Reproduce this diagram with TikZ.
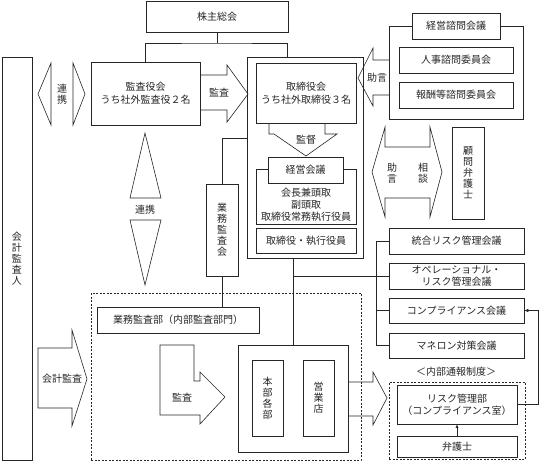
\documentclass[tikz,border=0pt]{standalone}
\usepackage{fontspec}
\setmainfont{Noto Sans CJK JP}
\usetikzlibrary{arrows.meta}
\begin{document}
\begin{tikzpicture}[x=1pt,y=-1pt,line width=0.6pt,color=black!85,line join=miter,
  txt/.style={inner sep=0pt,align=center,font=\fontsize{10}{13}\selectfont},
  box/.style={draw,fill=white,inner sep=0pt,align=center,font=\fontsize{10}{13}\selectfont},
  vt/.style={font=\fontsize{10}{11}\selectfont},
  tl/.style={font=\fontsize{10}{12}\selectfont},
  dbox/.style={draw,dash pattern=on 2pt off 1.5pt,inner sep=0pt},
  tip/.style={-{Latex[length=4pt,width=3.5pt]}}]
\useasboundingbox (0,0) rectangle (540,461);
% top
\node[box,minimum width=142pt,minimum height=31pt] (kabu) at (217,16.5) {株主総会};
\node[box,minimum width=109pt,minimum height=63pt] (kansa) at (145.5,93.5) {監査役会\\うち社外監査役２名};
\node[box,minimum width=116pt,minimum height=201pt] (torout) at (305,157.5) {};
\node[box,minimum width=100pt,minimum height=60pt] (torikai) at (306,93) {取締役会\\うち社外取締役３名};
\node[box,minimum width=100pt,minimum height=55pt] (keigrp) at (306,196.5) {};
\node[box,minimum width=75pt,minimum height=26pt] (keiei) at (305.5,170) {経営会議};
\node[txt,tl] (keimem) at (306,205) {会長兼頭取\\副頭取\\取締役常務執行役員};
\node[box,minimum width=100pt,minimum height=25pt] (shikko) at (306,240.5) {取締役・執行役員};
% advisory
\node[box,minimum width=134pt,minimum height=93pt] (shimon) at (456,72.5) {};
\node[box,minimum width=88pt,minimum height=26pt] (shimont) at (456,26) {経営諮問会議};
\node[box,minimum width=114pt,minimum height=26pt] (jinji) at (456,60) {人事諮問委員会};
\node[box,minimum width=114pt,minimum height=26pt] (hoshu) at (456,95) {報酬等諮問委員会};
\node[box,vt,minimum width=32pt,minimum height=92pt] (komon) at (468,173) {顧\\問\\弁\\護\\士};
% risk meetings
\node[box,minimum width=135pt,minimum height=26pt] (togo) at (456.5,241) {統合リスク管理会議};
\node[box,tl,minimum width=135pt,minimum height=26pt] (opera) at (456.5,276) {オペレーショナル・\\リスク管理会議};
\node[box,minimum width=135pt,minimum height=25pt] (comp) at (456.5,310.5) {コンプライアンス会議};
\node[box,minimum width=135pt,minimum height=25pt] (maneron) at (456.5,345.5) {マネロン対策会議};
\node[txt] (naibul) at (456,372) {＜内部通報制度＞};
\node[dbox,minimum width=136pt,minimum height=77pt] (naibu) at (457,420.5) {};
\node[box,tl,minimum width=120pt,minimum height=39pt] (risk) at (457,404.5) {リスク管理部\\（コンプライアンス室）};
\node[box,minimum width=120pt,minimum height=21pt] (bengo) at (457,446.5) {弁護士};
% left side
\node[box,vt,minimum width=30pt,minimum height=403pt] (kaikei) at (17,258.5) {会\\計\\監\\査\\人};
\node[box,vt,minimum width=32pt,minimum height=92pt] (kansakai) at (222,230) {業\\務\\監\\査\\会};
\node[dbox,minimum width=270pt,minimum height=167pt] (audit) at (226,376.5) {};
\node[box,minimum width=162pt,minimum height=26pt] (kansabu) at (178,320) {業務監査部（内部監査部門）};
\node[box,minimum width=110pt,minimum height=107pt] (honbu) at (293,398.5) {};
\node[box,vt,minimum width=31pt,minimum height=76pt] (kakubu) at (267.5,398) {本\\部\\各\\部};
\node[box,vt,minimum width=31pt,minimum height=76pt] (eigyo) at (318.5,398) {営\\業\\店};
% connectors
\coordinate (j1) at (217,43);
\draw (kabu.south) -- (j1);
\draw (kansa.north) |- (j1) -| ([xshift=41pt]torout.north west);
\draw (kansakai.north) |- (torout.west |- 0,138);
\draw (kansakai.south) -- (kansakai.south |- kansabu.north);
\draw (honbu.north |- torout.south) -- (honbu.north);
\draw (honbu.north |- opera.west) -- (opera.west);
\coordinate (bus) at (376,241);
\draw (togo.west) -- (bus) -- (bus |- maneron.west) -- (maneron.west);
\draw (bus |- comp.west) -- (comp.west);
\coordinate (fb) at (538,0);
\draw[tip] (risk.east) -- (risk.east -| fb) |- (comp.east);
\draw[-{Latex[length=3.5pt,width=3pt]}] (bengo.north) -- (risk.south);
% block arrows
\draw (200,75) -- (227,75) -- (227,65) -- (248,94) -- (227,122) -- (227,110) -- (200,110);
\node[txt] at (219,93) {監査};
\draw (51,63) -- (38,94) -- (51,125) -- cycle;
\draw (73,63) -- (85,94) -- (73,125) -- cycle;
\node[txt,vt] at (62,94) {連\\携};
\draw (145,133) -- (161,198) -- (130,198) -- cycle;
\draw (130,220) -- (161,220) -- (145,285) -- cycle;
\node[txt] at (145,210) {連携};
\draw (389,60) -- (373,60) -- (373,48) -- (358,78) -- (373,106) -- (373,95) -- (389,95);
\node[txt] at (377,78) {助言};
\draw (269,123) -- (269,134) -- (274,134) -- (306,156) -- (337,134) -- (325,134) -- (325,123);
\node[txt] at (306,140) {監督};
\draw (385,127) -- (372,172) -- (385,217) -- (385,198) -- (430,198) -- (430,217) -- (442,172) -- (430,127) -- (430,147) -- (385,147) -- cycle;
\node[txt,vt] at (392,173) {助\\言};
\node[txt,vt] at (423,173) {相\\談};
\draw (38,348) -- (72,348) -- (72,330) -- (87,379) -- (72,426) -- (72,408) -- (38,408) -- cycle;
\node[txt] at (62,379) {会計監査};
\draw (160,345) -- (194,345) -- (194,381) -- (200,381) -- (200,372) -- (225,397) -- (200,424) -- (200,415) -- (160,415) -- cycle;
\node[txt] at (182,398) {監査};
\draw (honbu.east |- 0,382) -- (373,382) -- (373,372) -- (387,398) -- (373,425) -- (373,416) -- (honbu.east |- 0,416);
\end{tikzpicture}
\end{document}
